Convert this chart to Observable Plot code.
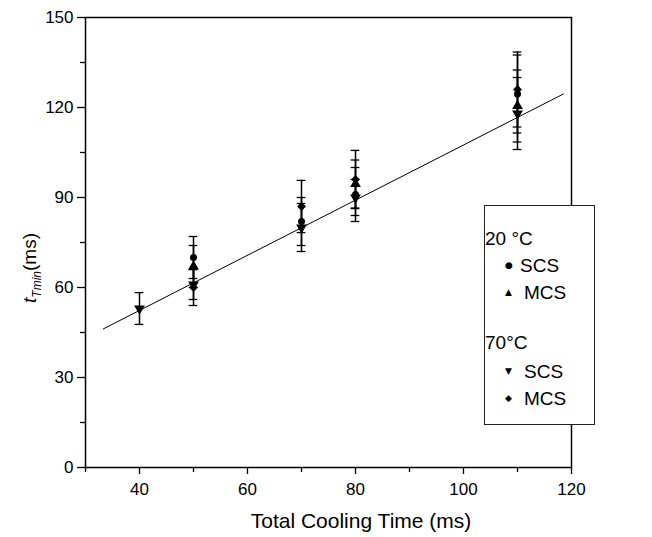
<!DOCTYPE html>
<html>
<head>
<meta charset="utf-8">
<script src="https://cdn.jsdelivr.net/npm/d3@7"></script>
<script src="https://cdn.jsdelivr.net/npm/@observablehq/plot@0.6"></script>
<style>
  body { margin: 0; background: #fff; }
  #wrap { position: relative; width: 652px; height: 537px; font-family: "Liberation Sans", Arial, sans-serif; }
  #legend { position: absolute; left: 484px; top: 205px; width: 111px; height: 220px; border: 1px solid #222; box-sizing: border-box; font-size: 19px; color: #000; background: #fff; }
  #legend div { position: absolute; white-space: nowrap; line-height: 1; }
  .mk { font-family: "DejaVu Sans", sans-serif; font-size: 9px; }
</style>
</head>
<body>
<div id="wrap"></div>
<script>
// ---- data ----
const xMajor = [40, 60, 80, 100, 120];
const xMinor = [30, 50, 70, 90, 110];
const yMajor = [0, 30, 60, 90, 120, 150];
const yMinor = [15, 45, 75, 105, 135];

const scs20X = [50, 70, 80, 110];
const scs20Y = [70, 82, 91, 124.5];
const scs20E = [7, 8, 9, 13];

const mcs20X = [50, 80, 110];
const mcs20Y = [67, 94.5, 120.5];
const mcs20E = [7, 8, 12];

const scs70X = [40, 50, 70, 80, 110];
const scs70Y = [53, 61, 80, 90, 118];
const scs70E = [5.3, 5, 8, 6, 12];

const mcs70X = [50, 70, 80, 110];
const mcs70Y = [60, 87, 96, 126];
const mcs70E = [6, 8.7, 9.7, 12.5];

const fitX = [33.3, 118.5];
const fitY = [46.2, 124.5];

// ---- build ----
function rows(xs, ys, es, s) { return xs.map((x, i) => ({x, y: ys[i], e: es[i], s})); }
const all = [
  ...rows(scs20X, scs20Y, scs20E, "scs20"),
  ...rows(mcs20X, mcs20Y, mcs20E, "mcs20"),
  ...rows(scs70X, scs70Y, scs70E, "scs70"),
  ...rows(mcs70X, mcs70Y, mcs70E, "mcs70")
];
const fit = fitX.map((x, i) => ({x, y: fitY[i]}));

const triDown = {
  draw(ctx, size) {
    const y = -Math.sqrt(size / (Math.sqrt(3) * 3));
    ctx.moveTo(0, -y * 2);
    ctx.lineTo(-Math.sqrt(3) * y, y);
    ctx.lineTo(Math.sqrt(3) * y, y);
    ctx.closePath();
  }
};
const symOf = {scs20: "circle", mcs20: "triangle", scs70: triDown, mcs70: "diamond2"};
const capW = 0.8;

const dotMark = (s, r) => Plot.dot(all.filter(d => d.s === s), {x: "x", y: "y", r, symbol: () => symOf[s], fill: "black", stroke: "none"});

const chart = Plot.plot({
  width: 652,
  height: 537,
  marginLeft: 85,
  marginRight: 81,
  marginTop: 17,
  marginBottom: 70,
  style: {fontFamily: "Liberation Sans, Arial, sans-serif", fontSize: "17px", color: "black", background: "white"},
  x: {domain: [30, 120]},
  y: {domain: [0, 150]},
  marks: [
    Plot.axisX({ticks: xMajor, tickSize: 7, tickPadding: 8, label: null, strokeWidth: 1.3}),
    Plot.axisX({ticks: xMinor, tickSize: 5, tickFormat: () => "", label: null, strokeWidth: 1.3}),
    Plot.axisY({ticks: yMajor, tickSize: 8, tickPadding: 4, label: null, strokeWidth: 1.3}),
    Plot.axisY({ticks: yMinor, tickSize: 5, tickFormat: () => "", label: null, strokeWidth: 1.3}),
    Plot.line(fit, {x: "x", y: "y", stroke: "black", strokeWidth: 1}),
    Plot.ruleX(all, {x: "x", y1: d => d.y - d.e, y2: d => d.y + d.e, stroke: "black", strokeWidth: 1.5}),
    Plot.ruleY(all, {y: d => d.y - d.e, x1: d => d.x - capW, x2: d => d.x + capW, stroke: "black", strokeWidth: 1.3}),
    Plot.ruleY(all, {y: d => d.y + d.e, x1: d => d.x - capW, x2: d => d.x + capW, stroke: "black", strokeWidth: 1.3}),
    dotMark("scs70", 4),
    dotMark("mcs70", 4),
    dotMark("mcs20", 4),
    dotMark("scs20", 3.5),
    Plot.frame({stroke: "black", strokeWidth: 1.5})
  ]
});

const svg = d3.select(chart);
// x axis title
svg.append("text")
  .attr("x", 361).attr("y", 528)
  .attr("text-anchor", "middle")
  .style("font-size", "21px")
  .text("Total Cooling Time (ms)");
// y axis title with subscript
const yt = svg.append("text")
  .attr("transform", "translate(36,268) rotate(-90)")
  .attr("text-anchor", "middle")
  .style("font-size", "19px");
yt.append("tspan").style("font-style", "italic").text("t");
yt.append("tspan").style("font-style", "italic").style("font-size", "12px").attr("dy", 5).text("Tmin");
yt.append("tspan").attr("dy", -5).text("(ms)");

const wrap = document.getElementById("wrap");
wrap.appendChild(chart);

// legend
const legendItems = [
  {t: "20 \u00B0C", x: 0, y: 33, mk: null},
  {t: "SCS", x: 35, y: 60, mk: "\u25CF"},
  {t: "MCS", x: 39, y: 87, mk: "\u25B2"},
  {t: "70\u00B0C", x: 0, y: 137, mk: null},
  {t: "SCS", x: 39, y: 166, mk: "\u25BC"},
  {t: "MCS", x: 39, y: 193, mk: "\u25C6"}
];
const lg = document.createElement("div");
lg.id = "legend";
legendItems.forEach(it => {
  const d = document.createElement("div");
  d.style.left = it.x + "px";
  d.style.top = (it.y - 10) + "px";
  d.textContent = it.t;
  lg.appendChild(d);
  if (it.mk) {
    const m = document.createElement("div");
    m.className = "mk";
    m.style.left = "20px";
    m.style.top = (it.y - 5) + "px";
    m.textContent = it.mk;
    lg.appendChild(m);
  }
});
wrap.appendChild(lg);
</script>
</body>
</html>
